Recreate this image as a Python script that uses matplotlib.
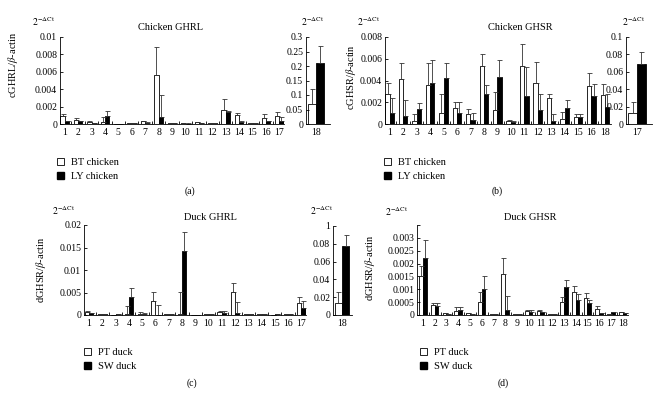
import matplotlib
matplotlib.use("Agg")
import matplotlib.pyplot as plt
from matplotlib.patches import Patch
import numpy as np

plt.rcParams["font.family"] = ["Liberation Serif", "DejaVu Serif"]
plt.rcParams["mathtext.fontset"] = "stix"
plt.rcParams["font.size"] = 7

# (a) Chicken GHRL, tissues 1-17 (main) and 18 (side)
labels_a = [str(i) for i in range(1, 18)]
bt_a = [0.0009, 0.0005, 0.0002, 0.0002, 0, 0.0001, 0.0003, 0.0056, 0.0001, 0.0001,
        0.0002, 0.0001, 0.0016, 0.0010, 0.0001, 0.0007, 0.0009]
bt_a_sd = [0.0002, 0.0002, 0.0001, 0.0006, 0, 0.00005, 0.0001, 0.0033, 0.00005, 0.00005,
           0.00005, 0.00005, 0.0013, 0.0003, 0.00005, 0.0005, 0.0005]
ly_a = [0.0003, 0.0003, 0.0001, 0.0009, 0, 0.0001, 0.0001, 0.0008, 0.0001, 0.00005,
        0.0001, 0.0001, 0.0014, 0.0002, 0.0001, 0.0003, 0.0004]
ly_a_sd = [0.0001, 0.0001, 0.00005, 0.0006, 0, 0.00005, 0.0001, 0.0025, 0.00005, 0.00005,
           0.00005, 0.00005, 0.0001, 0.0001, 0.00005, 0.0001, 0.0004]
side_a = ["18"]
bt_a_side, bt_a_side_sd = [0.07], [0.05]
ly_a_side, ly_a_side_sd = [0.21], [0.06]

# (b) Chicken GHSR, tissues 1-16, 18 (main) and 17 (side)
labels_b = [str(i) for i in range(1, 17)] + ["18"]
bt_b = [0.0028, 0.0041, 0.0003, 0.0036, 0.0010, 0.0015, 0.0009, 0.0053, 0.0013, 0.0003,
        0.0053, 0.0038, 0.0024, 0.0005, 0.0006, 0.0035, 0.0027]
bt_b_sd = [0.0010, 0.0015, 0.0006, 0.0020, 0.0018, 0.0005, 0.0005, 0.0011, 0.0016, 0.0001,
           0.0021, 0.0019, 0.0004, 0.0006, 0.0003, 0.0012, 0.0010]
ly_b = [0.0010, 0.0007, 0.0014, 0.0038, 0.0042, 0.0010, 0.0004, 0.0028, 0.0043, 0.0002,
        0.0026, 0.0013, 0.0003, 0.0015, 0.0006, 0.0026, 0.0016]
ly_b_sd = [0.0014, 0.0015, 0.0005, 0.0021, 0.0014, 0.0010, 0.0006, 0.0008, 0.0016, 0.0001,
           0.0026, 0.0015, 0.0006, 0.0007, 0.0003, 0.0011, 0.0012]
side_b = ["17"]
bt_b_side, bt_b_side_sd = [0.013], [0.012]
ly_b_side, ly_b_side_sd = [0.069], [0.014]

# (c) Duck GHRL, tissues 1-17 (main) and 18 (side)
labels_c = [str(i) for i in range(1, 18)]
pt_c = [0.0007, 0.0002, 0.0001, 0.0002, 0.0003, 0.0031, 0.0002, 0.0002, 0, 0.0002,
        0.0006, 0.0052, 0.0002, 0.0002, 0.0001, 0.0002, 0.0026]
pt_c_sd = [0.0001, 0, 0, 0.0018, 0.0003, 0.0021, 0, 0.0049, 0, 0,
           0.0002, 0.0020, 0, 0, 0, 0, 0.0014]
sw_c = [0.0004, 0.0002, 0.0002, 0.0040, 0.0002, 0.0001, 0.0003, 0.0142, 0, 0.0002,
        0.0005, 0.0005, 0.0002, 0.0002, 0.0002, 0.0002, 0.0016]
sw_c_sd = [0.0001, 0, 0, 0.0019, 0.0003, 0.0021, 0, 0.0042, 0, 0,
           0.0004, 0.0023, 0, 0, 0, 0, 0.0015]
side_c = ["18"]
pt_c_side, pt_c_side_sd = [0.013], [0.013]
sw_c_side, sw_c_side_sd = [0.077], [0.013]

# (d) Duck GHSR, tissues 1-18
labels_d = [str(i) for i in range(1, 19)]
pt_d = [0.0015, 0.0004, 0.00007, 0.00015, 0.00007, 0.0005, 0.00005, 0.0016, 0.00005,
        0.00015, 0.00015, 0.00005, 0.0005, 0.0009, 0.00065, 0.00025, 0.00005, 0.0001]
pt_d_sd = [0.0004, 0.00005, 0, 0.00015, 0, 0.0004, 0, 0.0006, 0,
           0.00005, 0.00005, 0, 0.0002, 0.00024, 0.0002, 0.0001, 0, 0.00002]
sw_d = [0.0022, 0.00035, 0.00005, 0.0002, 0.00005, 0.00102, 0.00005, 0.0002, 0.00003,
        0.0001, 0.00012, 0.00005, 0.0011, 0.0006, 0.00045, 0.00007, 0.0001, 0.00007]
sw_d_sd = [0.0007, 0.00013, 0, 0.00013, 0, 0.0005, 0, 0.00055, 0,
           0.00008, 0, 0, 0.00026, 0.0002, 0.00014, 0, 0, 0]

W, H = 664, 397
fig = plt.figure(figsize=(W / 100, H / 100), dpi=100)


def px_axes(x0, x1, ytop, ybot):
    return fig.add_axes([x0 / W, 1 - ybot / H, (x1 - x0) / W, (ybot - ytop) / H])


def draw(ax, labels, white, white_sd, black, black_sd, yticks, ylabels, ylim, xlim, bw=0.32):
    x = np.arange(1, len(labels) + 1)
    ax.bar(x - bw / 2, white, bw, color="white", edgecolor="black", linewidth=0.6)
    ax.bar(x + bw / 2, black, bw, color="black", edgecolor="black", linewidth=0.6)
    ax.errorbar(x - bw / 2, white, yerr=[np.zeros(len(x)), white_sd], fmt="none",
                ecolor="#333333", elinewidth=0.6, capsize=1.8, capthick=0.6)
    ax.errorbar(x + bw / 2, black, yerr=[np.zeros(len(x)), black_sd], fmt="none",
                ecolor="#333333", elinewidth=0.6, capsize=1.8, capthick=0.6)
    ax.set_xlim(*xlim)
    ax.set_ylim(*ylim)
    ax.set_xticks(x)
    ax.set_xticklabels(labels)
    ax.set_xticks(np.arange(1.5, len(labels) + 0.5), minor=True)
    ax.tick_params(axis="x", which="major", length=0, pad=3)
    ax.tick_params(axis="x", which="minor", length=2, direction="in", width=0.6)
    ax.set_yticks(yticks)
    ax.set_yticklabels(ylabels)
    ax.tick_params(axis="y", length=2.5, direction="in", width=0.6, pad=2)
    for s in ["top", "right"]:
        ax.spines[s].set_visible(False)
    for s in ["left", "bottom"]:
        ax.spines[s].set_linewidth(0.6)


def legend(names, x, y):
    fig.legend(handles=[Patch(facecolor="white", edgecolor="black", linewidth=0.6, label=names[0]),
                        Patch(facecolor="black", edgecolor="black", label=names[1])],
               loc="upper left", bbox_to_anchor=(x / W, 1 - y / H), frameon=False,
               handlelength=0.7, handleheight=0.7, handletextpad=0.6, labelspacing=0.45,
               fontsize=7.5, borderpad=0, borderaxespad=0)


dct = r"$2^{-\Delta\mathrm{Ct}}$"

# panel (a)
ax = px_axes(60, 284, 37, 124)
draw(ax, labels_a, bt_a, bt_a_sd, ly_a, ly_a_sd,
     [0, 0.002, 0.004, 0.006, 0.008, 0.01], ["0", "0.002", "0.004", "0.006", "0.008", "0.01"],
     (0, 0.01), (0.65, 17.35))
ax.set_ylabel(r"cGHRL/$\beta$-actin", fontsize=7.5)
ax.yaxis.set_label_coords((20 - 60) / 224, 0.68)
ax = px_axes(306, 330, 37, 124)
draw(ax, side_a, bt_a_side, bt_a_side_sd, ly_a_side, ly_a_side_sd,
     [0, 0.05, 0.1, 0.15, 0.2, 0.25, 0.3], ["0", "0.05", "0.1", "0.15", "0.2", "0.25", "0.3"],
     (0, 0.3), (0.6, 1.55))
fig.text(44 / W, 1 - 22 / H, dct, fontsize=7, ha="center", va="center")
fig.text(313 / W, 1 - 22 / H, dct, fontsize=7, ha="center", va="center")
fig.text(170 / W, 1 - 27 / H, "Chicken GHRL", fontsize=7.5, ha="center", va="center")
legend(["BT chicken", "LY chicken"], 57, 158)
fig.text(190 / W, 1 - 191 / H, "(a)", fontsize=7, ha="center", va="center")

# panel (b)
ax = px_axes(385, 611, 37, 124)
draw(ax, labels_b, bt_b, bt_b_sd, ly_b, ly_b_sd,
     [0, 0.002, 0.004, 0.006, 0.008], ["0", "0.002", "0.004", "0.006", "0.008"],
     (0, 0.008), (0.65, 17.45))
ax.set_ylabel(r"cGHSR/$\beta$-actin", fontsize=7.5)
ax.yaxis.set_label_coords((358 - 385) / 226, 0.54)
ax = px_axes(626, 652, 37, 124)
draw(ax, side_b, bt_b_side, bt_b_side_sd, ly_b_side, ly_b_side_sd,
     [0, 0.02, 0.04, 0.06, 0.08, 0.1], ["0", "0.02", "0.04", "0.06", "0.08", "0.1"],
     (0, 0.1), (0.6, 1.55))
fig.text(369 / W, 1 - 22 / H, dct, fontsize=7, ha="center", va="center")
fig.text(634 / W, 1 - 22 / H, dct, fontsize=7, ha="center", va="center")
fig.text(520 / W, 1 - 27 / H, "Chicken GHSR", fontsize=7.5, ha="center", va="center")
legend(["BT chicken", "LY chicken"], 384, 158)
fig.text(497 / W, 1 - 191 / H, "(b)", fontsize=7, ha="center", va="center")

# panel (c)
ax = px_axes(84, 306, 225, 315)
draw(ax, labels_c, pt_c, pt_c_sd, sw_c, sw_c_sd,
     [0, 0.005, 0.01, 0.015, 0.02], ["0", "0.005", "0.01", "0.015", "0.02"],
     (0, 0.02), (0.62, 17.35))
ax.set_ylabel(r"dGHSR/$\beta$-actin", fontsize=7.5)
ax.yaxis.set_label_coords((48 - 84) / 222, 0.5)
ax = px_axes(333, 352, 226, 315)
draw(ax, side_c, pt_c_side, pt_c_side_sd, sw_c_side, sw_c_side_sd,
     [0, 0.02, 0.04, 0.06, 0.08, 0.1], ["0", "0.02", "0.04", "0.06", "0.08", "1"],
     (0, 0.1), (0.6, 1.45))
fig.text(64 / W, 1 - 211 / H, dct, fontsize=7, ha="center", va="center")
fig.text(322 / W, 1 - 211 / H, dct, fontsize=7, ha="center", va="center")
fig.text(210 / W, 1 - 218 / H, "Duck GHRL", fontsize=7.5, ha="center", va="center")
legend(["PT duck", "SW duck"], 84, 348)
fig.text(192 / W, 1 - 383 / H, "(c)", fontsize=7, ha="center", va="center")

# panel (d)
ax = px_axes(417, 628, 225, 315)
draw(ax, labels_d, pt_d, pt_d_sd, sw_d, sw_d_sd,
     [0, 0.0005, 0.001, 0.0015, 0.002, 0.0025, 0.003, 0.0035],
     ["0", "0.0005", "0.001", "0.0015", "0.002", "0.0025", "0.003", ""],
     (0, 0.0035), (0.5, 18.45))
ax.set_ylabel(r"dGHSR/$\beta$-actin", fontsize=7.5)
ax.yaxis.set_label_coords((377 - 417) / 211, 0.52)
fig.text(397 / W, 1 - 212 / H, dct, fontsize=7, ha="center", va="center")
fig.text(530 / W, 1 - 218 / H, "Duck GHSR", fontsize=7.5, ha="center", va="center")
legend(["PT duck", "SW duck"], 420, 348)
fig.text(503 / W, 1 - 383 / H, "(d)", fontsize=7, ha="center", va="center")

fig.savefig("out.png", dpi=100)
